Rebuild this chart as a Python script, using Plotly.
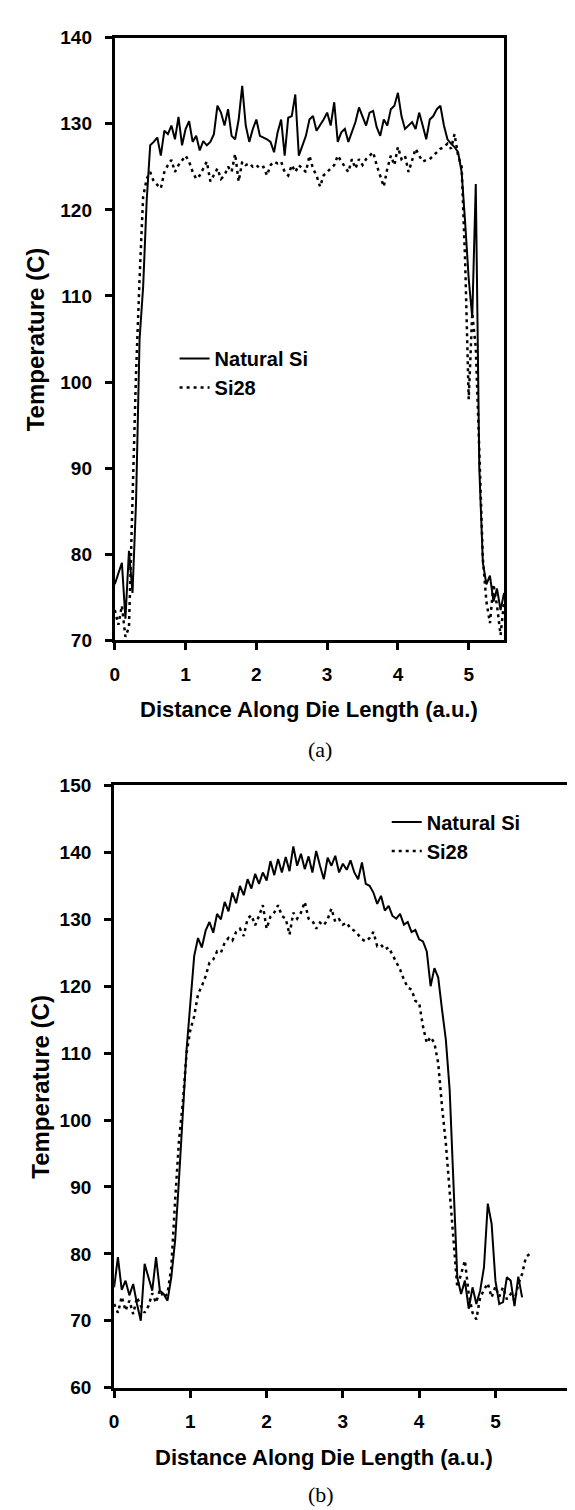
import plotly.graph_objects as go

# ---------------- data ----------------
top_x = [round(i * 0.05, 2) for i in range(111)]          # 0.00 .. 5.50
bot_x = [round(i * 0.05, 2) for i in range(110)]          # 0.00 .. 5.45

top_natural = [
    76.5, 77.7, 79.0, 72.5, 80.4, 75.5, 86.0, 105.0, 111.0, 121.0,
    127.5, 127.9, 128.4, 126.3, 129.2, 128.8, 129.8, 128.2, 130.8, 127.5,
    129.4, 130.3, 127.9, 128.6, 126.9, 128.0, 127.5, 127.9, 128.8, 132.1,
    131.3, 129.8, 131.7, 128.6, 128.2, 130.5, 134.4, 129.8, 127.9, 129.4,
    130.5, 128.6, 128.4, 128.2, 127.9, 126.7, 129.0, 130.5, 126.3, 130.7,
    130.9, 133.4, 126.3, 127.5, 128.6, 130.5, 130.9, 129.2, 129.8, 130.5,
    131.3, 129.8, 132.5, 127.9, 129.0, 129.4, 127.9, 129.0, 130.2, 131.9,
    130.9, 129.8, 131.3, 131.5, 129.6, 128.6, 130.5, 129.8, 131.7, 132.1,
    133.6, 130.9, 129.4, 129.8, 130.2, 129.4, 131.3, 129.8, 128.2, 130.5,
    130.9, 131.7, 132.1, 129.8, 128.2, 127.7, 127.3, 126.7, 124.4, 118.5,
    112.0, 107.5, 123.0, 90.0, 79.0, 76.5, 77.5, 74.5, 76.0, 73.5,
    75.5,
]
top_si28 = [
    73.5, 71.8, 74.0, 70.4, 71.5, 87.0, 101.0, 112.0, 121.5, 123.6,
    124.4, 123.3, 122.9, 122.5, 124.4, 125.2, 125.8, 124.4, 125.2, 125.8,
    126.3, 125.6, 124.4, 123.6, 124.0, 124.8, 125.6, 123.3, 124.0, 124.8,
    123.6, 124.0, 125.0, 124.4, 126.5, 123.3, 125.6, 125.2, 125.4, 125.0,
    125.2, 124.8, 125.0, 124.0, 125.2, 125.6, 125.4, 125.6, 124.4, 124.0,
    125.2, 124.4, 125.2, 124.8, 124.4, 126.3, 124.8, 124.0, 122.7, 124.0,
    124.4, 124.8, 125.2, 126.3, 125.6, 125.0, 124.4, 125.9, 124.8, 125.9,
    125.2, 125.9, 126.3, 126.7, 125.2, 124.0, 122.7, 124.8, 126.3, 125.2,
    127.3, 125.9, 126.3, 124.4, 125.9, 127.1, 126.3, 125.6, 125.8, 125.9,
    126.3, 126.7, 127.1, 127.3, 127.7, 127.1, 128.8, 126.3, 125.0, 114.0,
    98.0, 108.0, 104.0, 92.0, 79.5, 74.5, 72.0, 76.5, 74.0, 70.6,
    74.5,
]

bot_natural = [
    75.0, 79.5, 74.6, 76.0, 73.8, 75.5, 72.5, 70.0, 78.5, 76.5,
    74.5, 79.5, 74.5, 74.0, 73.0, 76.5, 82.0, 91.0, 101.0, 110.5,
    117.5, 124.5, 127.2, 125.8, 128.3, 129.6, 128.0, 130.8, 130.0, 132.6,
    131.2, 134.0, 132.4, 135.0, 133.6, 136.0, 134.6, 136.8, 135.3, 137.0,
    135.8, 138.7, 136.6, 139.0, 137.0, 139.3, 137.2, 140.9, 138.0, 139.8,
    137.5, 139.4, 137.0, 140.2, 138.0, 136.0, 139.2, 138.0, 139.5, 137.0,
    138.3, 137.4, 138.8, 137.0, 136.0, 138.5, 135.3, 135.0, 134.0, 132.3,
    133.5, 131.3, 132.0, 130.5, 130.1, 130.8, 129.2, 129.6, 128.1, 128.4,
    127.0, 126.7, 125.2, 120.0, 122.7, 121.3, 116.5, 112.0, 104.5, 90.0,
    76.5, 74.0, 76.0, 71.8, 75.0, 72.5, 74.5, 78.0, 87.5, 84.5,
    76.0, 72.5, 72.8, 76.5, 76.0, 72.2, 76.6, 73.5, None, None,
]
bot_si28 = [
    72.5, 71.2, 73.6, 71.5, 73.0, 71.0, 73.5, 72.2, 71.2, 72.2,
    74.1, 72.7, 74.6, 73.5, 74.0, 78.0, 88.0, 96.8, 102.5, 110.0,
    113.5, 115.5, 118.8, 120.0, 121.5, 123.5, 124.0, 125.2, 125.0, 126.5,
    127.2, 126.8, 128.1, 128.6, 127.5, 130.1, 130.6, 129.1, 130.5, 132.1,
    128.6, 130.4, 131.0, 132.1, 130.5, 130.1, 127.7, 131.0, 130.1, 131.0,
    132.6, 130.1, 129.8, 128.6, 129.5, 129.1, 130.0, 131.6, 129.6, 130.0,
    129.2, 129.5, 128.6, 128.3, 127.7, 127.0, 126.7, 127.2, 128.1, 126.0,
    126.2, 125.5, 125.8, 124.7, 123.5, 122.5, 121.0, 119.8, 119.5, 117.8,
    117.5, 114.0, 111.5, 112.4, 111.5, 108.5, 102.0, 96.5, 89.3, 82.0,
    75.0, 77.0, 79.0, 74.0, 71.2, 70.2, 73.5, 74.6, 75.6, 73.5,
    75.1, 73.6, 75.0, 73.2, 74.0, 73.0, 75.5, 77.0, 79.5, 80.0,
]

x_ticks = [0, 1, 2, 3, 4, 5]
top_y_ticks = [70, 80, 90, 100, 110, 120, 130, 140]
bot_y_ticks = [60, 70, 80, 90, 100, 110, 120, 130, 140, 150]

# ---------------- figure ----------------
W, H = 575, 1510
SANS = "Liberation Sans, Arial, sans-serif"
SERIF = "Liberation Serif, Times New Roman, serif"


def px_x(p):
    return p / W


def px_y(p):
    return 1 - p / H


solid = dict(color="black", width=2)
dotted = dict(color="black", width=2.5, dash="3px,4px")

fig = go.Figure()
fig.add_trace(go.Scatter(x=top_x, y=top_natural, mode="lines", line=solid,
                         name="Natural Si", xaxis="x", yaxis="y", legend="legend"))
fig.add_trace(go.Scatter(x=top_x, y=top_si28, mode="lines", line=dotted,
                         name="Si28", xaxis="x", yaxis="y", legend="legend"))
fig.add_trace(go.Scatter(x=bot_x, y=bot_natural, mode="lines", line=solid,
                         name="Natural Si", xaxis="x2", yaxis="y2", legend="legend2"))
fig.add_trace(go.Scatter(x=bot_x, y=bot_si28, mode="lines", line=dotted,
                         name="Si28", xaxis="x2", yaxis="y2", legend="legend2"))

tickfont = dict(family=SANS, size=19, color="black", weight="bold")
axis_common = dict(showline=True, linecolor="black", linewidth=3, ticks="outside",
                   ticklen=7, tickwidth=2.5, tickcolor="black", showgrid=False,
                   zeroline=False, tickfont=tickfont)

# bottom plot: x=0 at 102 px, 76.93 px per unit, area continues to the right edge
bot_xmax = (W - 102) / 76.93

fig.update_layout(
    width=W, height=H,
    margin=dict(l=0, r=0, t=0, b=0),
    paper_bgcolor="white", plot_bgcolor="white",
    xaxis=dict(domain=[px_x(102.7), px_x(495.4)], range=[0, 5.5], tickvals=x_ticks,
               anchor="y", mirror=True, ticklabelstandoff=8, **axis_common),
    yaxis=dict(domain=[px_y(631), px_y(20)], range=[70, 140], tickvals=top_y_ticks,
               anchor="x", mirror=True, ticklabelstandoff=9, **axis_common),
    xaxis2=dict(domain=[px_x(102), 1.0], range=[0, bot_xmax], tickvals=x_ticks,
                anchor="y2", mirror=True, ticklabelstandoff=8, **axis_common),
    yaxis2=dict(domain=[px_y(1389), px_y(778.3)], range=[60, 150], tickvals=bot_y_ticks,
                anchor="x2", mirror=False, ticklabelstandoff=9, **axis_common),
    legend=dict(x=px_x(163), y=px_y(325.5), xanchor="left", yanchor="top",
                bgcolor="rgba(0,0,0,0)", borderwidth=0,
                font=dict(family=SANS, size=20, color="black", weight="bold")),
    legend2=dict(x=px_x(377), y=px_y(795.5), xanchor="left", yanchor="top",
                 bgcolor="rgba(0,0,0,0)", borderwidth=0,
                 font=dict(family=SANS, size=20, color="black", weight="bold")),
    showlegend=True,
)

title_font = dict(family=SANS, size=22, color="black", weight="bold")
ytitle_font = dict(family=SANS, size=24, color="black", weight="bold")
ann = [
    dict(text="Temperature (C)", x=px_x(23.5), y=px_y(325.5), textangle=-90, font=ytitle_font),
    dict(text="Temperature (C)", x=px_x(27.5), y=px_y(1083.5), textangle=-90, font=ytitle_font),
    dict(text="Distance Along Die Length (a.u.)", x=px_x(299), y=px_y(701.7), font=title_font),
    dict(text="Distance Along Die Length (a.u.)", x=px_x(313.3), y=px_y(1460), font=title_font),
    dict(text="(a)", x=px_x(310), y=px_y(742), font=dict(family=SERIF, size=22, color="black")),
    dict(text="(b)", x=px_x(311), y=px_y(1497), font=dict(family=SERIF, size=22, color="black")),
]
for a in ann:
    a.update(xref="paper", yref="paper", xanchor="center", yanchor="middle",
             showarrow=False)
fig.update_layout(annotations=ann)

fig.write_html("out.html")
